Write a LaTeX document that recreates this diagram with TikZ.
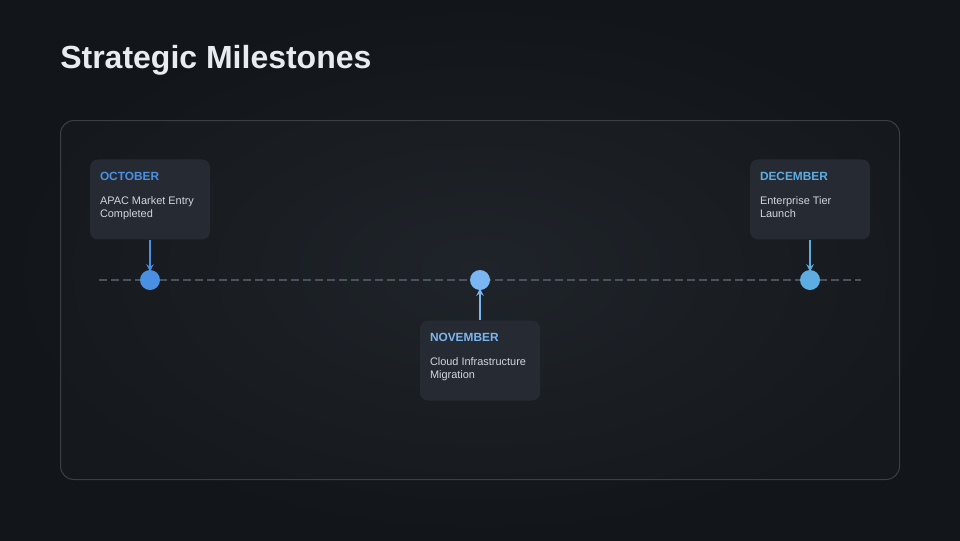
\documentclass[tikz,border=0pt]{standalone}
\usepackage{fontspec}
\setmainfont{Liberation Sans}
\usetikzlibrary{arrows,positioning}

\definecolor{bgdark}{HTML}{121519}
\definecolor{bglight}{HTML}{1C2127}
\definecolor{panelline}{HTML}{3A3F47}
\definecolor{cardbg}{HTML}{262B33}
\definecolor{titletext}{HTML}{E8ECF0}
\definecolor{bodytext}{HTML}{D2D6DC}
\definecolor{dashgray}{HTML}{4B525B}
\definecolor{octblue}{HTML}{4A90E2}
\definecolor{novblue}{HTML}{7AB6F2}
\definecolor{decblue}{HTML}{5DADE2}

\begin{document}
\begin{tikzpicture}[x=0.75pt,y=-0.75pt,>=stealth,
  card/.style={fill=cardbg,rounded corners=6pt,minimum width=90pt,minimum height=60pt,inner sep=0pt},
  mile/.style={circle,fill=#1,minimum size=15pt,inner sep=0pt},
  month/.style={anchor=base west,inner sep=0pt,text=#1,font=\fontsize{8.9}{10}\selectfont\bfseries},
  descr/.style={anchor=north west,inner sep=0pt,align=left,text=bodytext,font=\fontsize{8.2}{9.75}\selectfont},
  link/.style={draw=#1,line width=1.5pt,->,shorten >=-1.5pt}]

\useasboundingbox (0,0) rectangle (960,540);

% background and panel
\shade[inner color=bglight,outer color=bgdark] (0,0) rectangle (960,540);
\draw[panelline,fill=white,fill opacity=0.015,rounded corners=10pt,line width=0.75pt] (60.5,120.5) rectangle (899.5,479.5);

\node[anchor=base west,inner sep=0pt,text=titletext,font=\fontsize{24}{28}\selectfont\bfseries] (title) at (60,68) {Strategic Milestones};

% timeline
\coordinate (tlStart) at (99,280);
\coordinate (tlEnd)   at (861,280);
\draw[dashgray,line width=1.5pt,dash pattern=on 6pt off 3pt] (tlStart) -- (tlEnd);

\node[mile=octblue] (dotOct) at (150,280) {};
\node[mile=novblue] (dotNov) at (480,280) {};
\node[mile=decblue] (dotDec) at (810,280) {};

\node[card] (cardOct) [above=22.5pt of dotOct] {};
\node[card] (cardNov) [below=22.5pt of dotNov] {};
\node[card] (cardDec) [above=22.5pt of dotDec] {};

\node[month=octblue] (monOct) at ([shift={(10,21)}]cardOct.north west) {OCTOBER};
\node[descr]         (txtOct) at ([shift={(10,37)}]cardOct.north west) {APAC Market Entry\\Completed};
\node[month=novblue] (monNov) at ([shift={(10,21)}]cardNov.north west) {NOVEMBER};
\node[descr]         (txtNov) at ([shift={(10,37)}]cardNov.north west) {Cloud Infrastructure\\Migration};
\node[month=decblue] (monDec) at ([shift={(10,21)}]cardDec.north west) {DECEMBER};
\node[descr]         (txtDec) at ([shift={(10,37)}]cardDec.north west) {Enterprise Tier\\Launch};

% connectors
\draw[link=octblue] (cardOct) -- (dotOct);
\draw[link=novblue] (cardNov) -- (dotNov);
\draw[link=decblue] (cardDec) -- (dotDec);

\end{tikzpicture}
\end{document}
